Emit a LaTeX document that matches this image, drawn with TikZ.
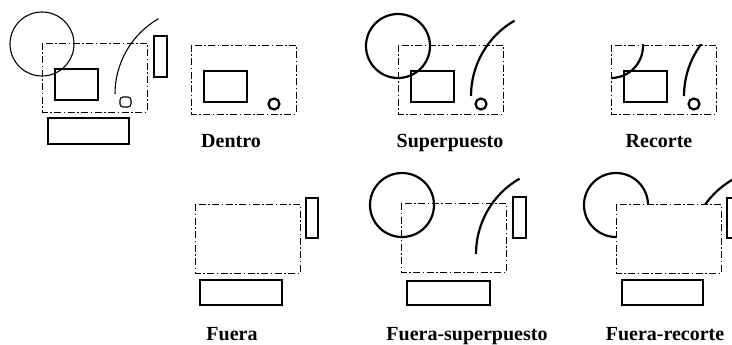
\documentclass[tikz,border=0pt]{standalone}
\usepackage{fontspec}
\setmainfont{Liberation Serif}

\tikzset{
  win/.style={line width=0.9pt, dash pattern=on 7pt off 2.5pt on 1.5pt off 2.5pt},
  obj/.style={line width=2.2pt},
  thinobj/.style={line width=1.1pt},
  lbl/.style={anchor=base, font=\fontsize{20}{24}\selectfont\bfseries}
}
\newcommand{\ventana}{\draw[win] (0,0) rectangle (105,69);}

\begin{document}
\begin{tikzpicture}[x=1pt,y=-1pt]
\useasboundingbox (0,0) rectangle (732,345);
\clip (0,0) rectangle (732,345);

% escena
\begin{scope}[shift={(42,43)}]
\ventana
\draw[thinobj] (0,1) circle (32);
\draw[thinobj] (13,26) rectangle (56,57);
\draw[thinobj, rounded corners=3] (78,54) rectangle (89,64);
\draw[thinobj] (73,51) arc[start angle=180, end angle=240, radius=87];
\draw[thinobj] (112,-7) rectangle (125,34);
\draw[thinobj] (6,75) rectangle (87,101);
\end{scope}

% dentro
\begin{scope}[shift={(191,45)}]
\ventana
\draw[obj] (13,26) rectangle (56,57);
\draw[obj] (83,59) circle (5.5);
\end{scope}
\node (dentro) at (231,147) [lbl] {Dentro};

% superpuesto
\begin{scope}[shift={(398,45)}]
\ventana
\draw[obj] (0,1) circle (32);
\draw[obj] (13,26) rectangle (56,57);
\draw[obj] (73,51) arc[start angle=180, end angle=240, radius=87];
\draw[obj] (83,59) circle (5.5);
\end{scope}
\node (super) at (450,147) [lbl] {Superpuesto};

% recorte
\begin{scope}[shift={(611,45)}]
\ventana
\begin{scope}
\clip (0,0) rectangle (105,69);
\draw[obj] (0,1) circle (32);
\draw[obj] (73,51) arc[start angle=180, end angle=240, radius=87];
\end{scope}
\draw[obj] (13,26) rectangle (56,57);
\draw[obj] (83,59) circle (5.5);
\end{scope}
\node (recorte) at (659,147) [lbl] {Recorte};

% fuera
\begin{scope}[shift={(195,204)}]
\ventana
\draw[obj] (111,-6) rectangle (123,34);
\draw[obj] (5,76) rectangle (87,101);
\end{scope}
\node (fuera) at (232,340) [lbl] {Fuera};

% fuera-superpuesto
\begin{scope}[shift={(401,203)}]
\ventana
\draw[obj] (1,2) circle (32);
\draw[obj] (75,51) arc[start angle=180, end angle=240, radius=87];
\draw[obj] (112,-6) rectangle (125,35);
\draw[obj] (6,78) rectangle (89,102);
\end{scope}
\node (fsuper) at (467,340) [lbl] {Fuera-superpuesto};

% fuera-recorte
\begin{scope}[shift={(616,204)}]
\ventana
\begin{scope}
\clip (-300,-300) -- (400,-300) -- (400,300) -- (-300,300) -- cycle
      (0,0) -- (0,69) -- (105,69) -- (105,0) -- cycle;
\draw[obj] (0,1) circle (32);
\draw[obj] (73,51) arc[start angle=180, end angle=240, radius=87];
\end{scope}
\draw[obj] (111,-6) rectangle (124,34);
\draw[obj] (6,76) rectangle (87,101);
\end{scope}
\node (frecorte) at (665,340) [lbl] {Fuera-recorte};

\end{tikzpicture}
\end{document}
